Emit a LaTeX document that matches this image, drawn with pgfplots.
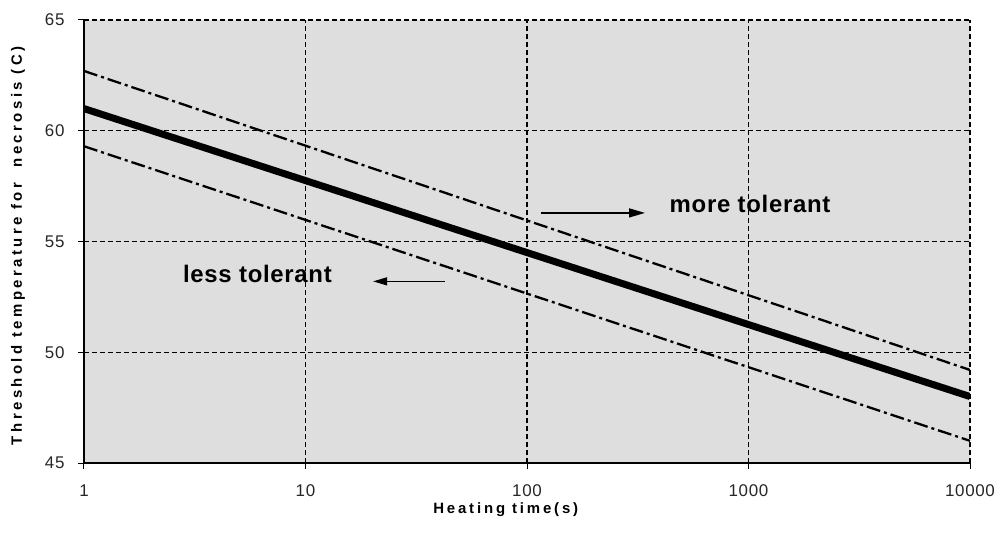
\documentclass[border=0pt]{standalone}
\usepackage{fontspec}
\setmainfont{Liberation Sans}
\newfontfamily\xlblfont[LetterSpace=19]{Liberation Sans}
\newfontfamily\ylblfont[LetterSpace=23]{Liberation Sans}
\newfontfamily\annfont[LetterSpace=3]{Liberation Sans}
\newfontfamily\tickfont[LetterSpace=4]{Liberation Sans}
\usepackage{pgfplots}
\pgfplotsset{compat=1.18}
\usetikzlibrary{arrows.meta}
\begin{document}
\begin{tikzpicture}
\begin{axis}[name=ax, xmode=log, log basis x=10,
  scale only axis, width=886bp, height=443bp,
  xmin=1, xmax=10000, ymin=45, ymax=65,
  xtick={1,10,100,1000,10000}, xticklabels={1,10,100,1000,10000},
  ytick={45,50,55,60,65}, yticklabels={45,50,55,60,65},
  axis x line=bottom, axis y line=left, axis line style={-, line width=1.5bp, black},
  tick align=outside, major tick length=6bp, tick style={black, line width=1bp},
  minor tick num=0,
  grid=major, major grid style={black, line width=1.2bp, dash pattern=on 5bp off 3bp},
  axis background/.style={fill=black!13},
  xticklabel style={font=\tickfont\fontsize{17}{17}\selectfont, text=black!85, yshift=-12bp},
  yticklabel style={font=\tickfont\fontsize{17}{17}\selectfont, text=black!85, xshift=-10bp},
  xlabel={Heating time(s)}, ylabel={Threshold temperature for\ \ necrosis (C)},
  xlabel style={at={(axis description cs:0.476,-0.106)}, anchor=center, font=\xlblfont\bfseries\fontsize{15}{15}\selectfont},
  ylabel style={at={(axis description cs:-0.0745,0.49)}, anchor=center, font=\ylblfont\bfseries\fontsize{15}{15}\selectfont},
]
\addplot[black, line width=7bp] coordinates {(1,61) (10000,48)};
\addplot[black, line width=2.3bp, dash pattern=on 14bp off 4bp on 3bp off 4bp] coordinates {(1,62.7) (10000,49.2)};
\addplot[black, line width=2.3bp, dash pattern=on 14bp off 4bp on 3bp off 4bp] coordinates {(1,59.3) (10000,46)};
\node[font=\annfont\bfseries\fontsize{24}{24}\selectfont, anchor=base west] at (axis cs:425,56.29) {more tolerant};
\draw[-{Triangle[length=16bp,width=9bp]}, line width=1.5bp] (axis cs:115.7,56.29) -- (axis cs:341,56.29);
\node[font=\annfont\bfseries\fontsize{24}{24}\selectfont, anchor=base west] at (axis cs:2.7,53.17) {less tolerant};
\draw[-{Triangle[length=14bp,width=8bp]}, line width=1.2bp] (axis cs:42.6,53.2) -- (axis cs:20.2,53.2);
\end{axis}
\pgfresetboundingbox
\path ([shift={(-84bp,-78bp)}]ax.south west) rectangle ([shift={(32bp,20bp)}]ax.north east);
\end{tikzpicture}
\end{document}
